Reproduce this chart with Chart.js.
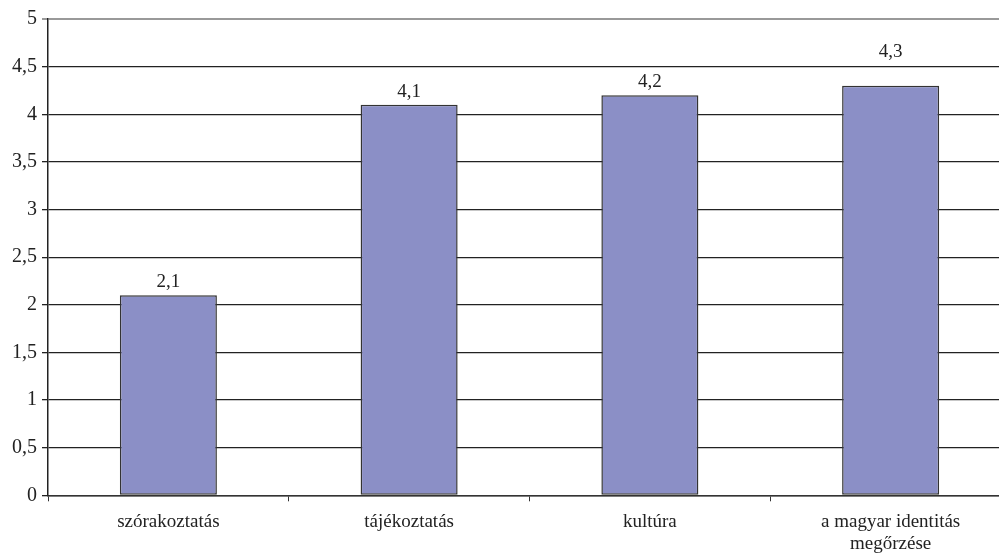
<!DOCTYPE html>
<html>
<head>
<meta charset="utf-8">
<script src="https://cdn.jsdelivr.net/npm/chart.js@4.4.0/dist/chart.umd.min.js"></script>
<style>
  html, body { margin: 0; padding: 0; background: #fff; overflow: hidden; }
  #wrap { width: 1011px; height: 563px; margin-top: 2px; }
</style>
</head>
<body>
<div id="wrap"><canvas id="chart"></canvas></div>
<script>
const categories = ['szórakoztatás', 'tájékoztatás', 'kultúra', ['a magyar identitás', 'megőrzése']];
const values = [2.1, 4.1, 4.2, 4.3];
const yTicks = [0, 0.5, 1, 1.5, 2, 2.5, 3, 3.5, 4, 4.5, 5];

const fmt = v => String(v).replace('.', ',');
const FONT = '"Liberation Serif", "DejaVu Serif", serif';

// value labels above bars, moved up when they would sit on a gridline
const barLabels = {
  id: 'barLabels',
  afterDatasetsDraw(chart) {
    const ctx = chart.ctx;
    const y = chart.scales.y;
    ctx.save();
    ctx.font = '19px ' + FONT;
    ctx.fillStyle = '#222';
    ctx.textAlign = 'center';
    ctx.textBaseline = 'middle';
    chart.getDatasetMeta(0).data.forEach((bar, i) => {
      let ly = bar.y - 13;
      yTicks.forEach(t => {
        const gy = y.getPixelForValue(t);
        if (Math.abs(gy - ly) < 10) ly = gy - 15;
      });
      ctx.fillText(fmt(values[i]), bar.x, ly);
    });
    ctx.restore();
  }
};

new Chart(document.getElementById('chart').getContext('2d'), {
  type: 'bar',
  data: {
    labels: categories,
    datasets: [{
      data: values,
      backgroundColor: '#8b8fc6',
      borderColor: '#333',
      borderWidth: 1.5,
      borderSkipped: false,
      barPercentage: 0.403,
      categoryPercentage: 1,
    }],
  },
  options: {
    responsive: true,
    maintainAspectRatio: false,
    animation: false,
    layout: { padding: { top: 16, left: 7, right: 0, bottom: 0 } },
    plugins: { legend: { display: false }, tooltip: { enabled: false } },
    scales: {
      x: {
        grid: { display: true, drawOnChartArea: false, offset: true, color: '#333', tickLength: 6 },
        border: { color: '#333', width: 1.5 },
        ticks: { color: '#222', font: { family: FONT, size: 19, lineHeight: 1.15 }, padding: 10, maxRotation: 0 },
      },
      y: {
        min: 0,
        max: 5,
        afterBuildTicks: axis => { axis.ticks = yTicks.map(v => ({ value: v })); },
        grid: {
          color: c => (c.tick && c.tick.value === 5 ? '#999' : '#222'),
          lineWidth: c => (c.tick && c.tick.value === 5 ? 2 : 1.3),
          tickLength: 6,
        },
        border: { color: '#222', width: 1.5 },
        ticks: { color: '#222', font: { family: FONT, size: 20 }, padding: 5, callback: v => fmt(v) },
      },
    },
  },
  plugins: [barLabels],
});
</script>
</body>
</html>
